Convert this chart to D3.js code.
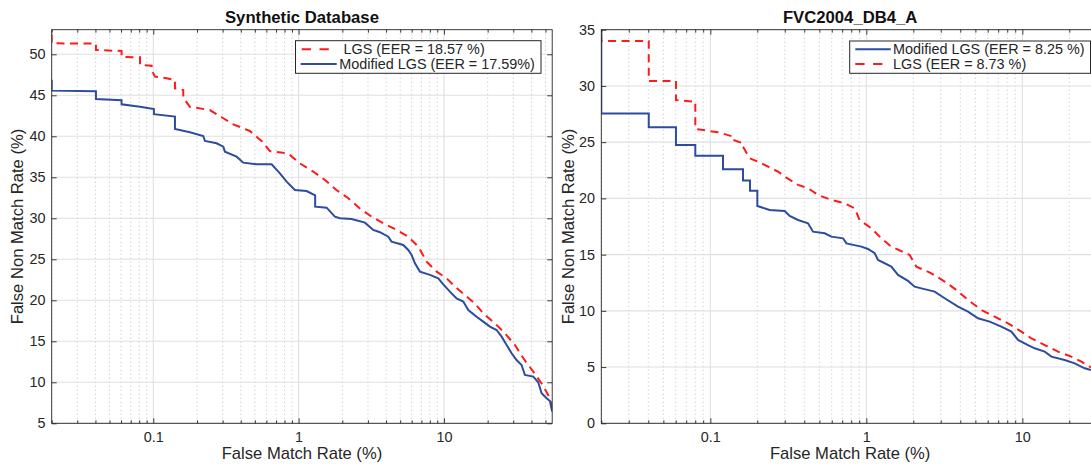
<!DOCTYPE html>
<html><head><meta charset="utf-8">
<script src="https://cdn.jsdelivr.net/npm/d3@7"></script>
<style>
body{margin:0;background:#fff}
svg{display:block}
text{font-family:"Liberation Sans",Arial,Helvetica,sans-serif}
</style>
</head><body>
<svg id="c" width="1091" height="464"></svg>
<script>
// ---------- data ----------
const xMajorTicks = [0.1, 1, 10];
const xMajorLabels = ["0.1", "1", "10"];
const synYTicks = [5, 10, 15, 20, 25, 30, 35, 40, 45, 50];
const fvcYTicks = [0, 5, 10, 15, 20, 25, 30, 35];
const synXRange = [0.02, 55.6];
const synYRange = [5, 53];
const fvcXRange = [0.02, 31];
const fvcYRange = [0, 35];
const synTitle = "Synthetic Database";
const fvcTitle = "FVC2004_DB4_A";
const xAxisLabel = "False Match Rate (%)";
const yAxisLabel = "False Non Match Rate (%)";
const synLegend = ["LGS (EER = 18.57 %)", "Modified LGS (EER = 17.59%)"];
const fvcLegend = ["Modified LGS (EER = 8.25 %)", "LGS (EER = 8.73 %)"];

// Synthetic - LGS
const synLgsFMR = [0.02,0.02,0.0403,0.0403,0.0605,0.0605,0.081,0.081,0.0974,0.0974,0.1027,0.1236,0.141,0.141,0.1608,0.1608,0.1786,0.245,0.303,0.355,0.462,0.556,0.635,0.849,1.02,1.26,1.52,1.82,2.2,2.64,3.18,3.83,4.72,5.68,6.66,7.6,8.91,10.43,11.9,13.95,16.3,18.65,22.4,26.3,30.8,35.2,41.2,47.8,53.6,55.6];
const synLgsFNMR = [52.4,51.34,51.3,50.53,50.4,49.7,49.63,48.7,48.6,48.1,47.28,47.07,46.87,45.85,45.65,44.7,43.6,43.2,42.2,41.46,40.65,39.43,38.2,37.9,36.7,35.7,34.67,33.45,32.44,31.2,30.2,29.39,28.58,27.76,26.54,24.72,23.5,22.68,21.67,20.65,19.63,18.41,17.2,15.98,14.55,12.93,11.3,9.67,8.05,6.83];
// Synthetic - Modified LGS
const synModFMR = [0.02,0.02,0.0403,0.0403,0.0605,0.0605,0.081,0.101,0.101,0.141,0.141,0.1788,0.2208,0.2267,0.2728,0.3031,0.3112,0.3745,0.4162,0.5141,0.6522,0.7438,0.827,0.9437,1.135,1.30,1.30,1.558,1.778,1.925,2.316,2.86,3.265,3.627,4.14,4.364,5.252,5.684,5.993,6.317,6.838,8.013,9.143,9.895,10.996,12.22,13.59,14.71,16.78,18.65,20.73,23.04,24.94,27.0,29.22,31.62,34.22,36.08,41.19,44.58,46.99,50.87,53.63,55.6];
const synModFNMR = [46.9,45.57,45.5,44.55,44.4,43.9,43.6,43.33,42.7,42.4,40.9,40.5,40.04,39.43,39.15,38.74,38.13,37.52,36.79,36.59,36.59,35.49,34.47,33.46,33.33,32.8,31.42,31.3,30.2,30.0,29.92,29.47,28.58,28.3,27.76,27.15,26.75,26.14,25.53,24.51,23.5,23.1,22.68,21.95,21.06,20.24,19.84,18.82,18.0,17.4,16.79,16.38,15.57,14.55,13.54,12.72,12.11,10.89,10.69,10.0,8.66,8.05,7.72,6.42];
// FVC2004 DB4_A - Modified LGS
const fvcModFMR = [0.02,0.02,0.0403,0.0403,0.0602,0.0602,0.0801,0.0801,0.1205,0.1205,0.162,0.162,0.1796,0.1796,0.2001,0.2001,0.240,0.2996,0.3225,0.3648,0.4227,0.455,0.541,0.5965,0.7087,0.745,0.929,1.025,1.131,1.188,1.446,1.596,1.849,2.04,2.253,2.742,3.178,3.869,4.484,5.198,6.174,7.334,8.504,9.38,10.87,12.0,13.91,15.35,18.68,21.66,25.1,27.5];
const fvcModFNMR = [35,27.54,27.54,26.32,26.32,24.75,24.75,23.8,23.8,22.59,22.59,21.6,21.6,20.69,20.69,19.33,18.97,18.88,18.44,18.08,17.79,17.04,16.9,16.6,16.45,16.0,15.71,15.5,15.12,14.52,13.93,13.19,12.66,12.15,12.0,11.71,11.12,10.37,9.93,9.34,9.04,8.6,8.15,7.41,6.96,6.67,6.37,5.93,5.63,5.33,4.89,4.74];
// FVC2004 DB4_A - LGS
const fvcLgsFMR = [0.02,0.02,0.0403,0.0403,0.0602,0.0602,0.0801,0.0801,0.112,0.1397,0.1397,0.162,0.162,0.1787,0.202,0.2343,0.2716,0.2996,0.3648,0.4227,0.4898,0.5965,0.7265,0.8418,0.906,1.076,1.248,1.446,1.896,2.092,2.61,3.178,3.775,4.484,5.46,6.645,8.092,9.85,11.42,13.91,16.93,20.61,23.89,27.5];
const fvcLgsFNMR = [34.6,34.0,34.0,30.44,30.44,28.75,28.6,26.18,25.88,25.5,25.2,24.9,24.6,23.57,23.27,22.83,22.38,21.94,21.2,20.9,20.31,19.86,19.56,19.12,18.08,17.34,16.45,15.71,14.97,13.93,13.34,12.6,11.86,10.97,10.08,9.48,8.89,8.15,7.56,6.96,6.37,5.93,5.48,4.98];

// ---------- styles ----------
const BLUE = "#2c4c9f";
const RED = "#ff1a1a";
const TXT = "#262626";
const DASH_PLOT = "8,5.5";
const DASH_LEG = "9.3,8.5";

const zip = (a, b) => a.map((v, i) => [v, b[i]]);

const panels = [
  {
    id: "syn", box: {l: 51.7, r: 552.2, t: 29.7, b: 423.3},
    xr: synXRange, yr: synYRange, yt: synYTicks, title: synTitle,
    ylabX: 23,
    series: [
      {pts: zip(synLgsFMR, synLgsFNMR), color: RED, dash: DASH_PLOT},
      {pts: zip(synModFMR, synModFNMR), color: BLUE, dash: null}
    ],
    legend: {x0: 295.5, y0: 40.7, x1: 541, y1: 73.3,
      rows: [
        {label: synLegend[0], color: RED, dash: DASH_LEG, lx0: 301.7, lx1: 330, ly: 49.3, tx: 343.5, ty: 54.3},
        {label: synLegend[1], color: BLUE, dash: null, lx0: 300.7, lx1: 336.7, ly: 64, tx: 339.3, ty: 69.3}
      ]}
  },
  {
    id: "fvc", box: {l: 601.3, r: 1099.0, t: 29.7, b: 423.3},
    xr: fvcXRange, yr: fvcYRange, yt: fvcYTicks, title: fvcTitle,
    ylabX: 573.5,
    series: [
      {pts: zip(fvcLgsFMR, fvcLgsFNMR), color: RED, dash: DASH_PLOT},
      {pts: zip(fvcModFMR, fvcModFNMR), color: BLUE, dash: null}
    ],
    legend: {x0: 849.7, y0: 41, x1: 1090.5, y1: 73.3,
      rows: [
        {label: fvcLegend[0], color: BLUE, dash: null, lx0: 855.3, lx1: 890.7, ly: 49.3, tx: 893, ty: 54.3},
        {label: fvcLegend[1], color: RED, dash: DASH_LEG, lx0: 855.3, lx1: 883.5, ly: 64, tx: 893, ty: 69.3}
      ]}
  }
];

const svg = d3.select("#c");
svg.append("rect").attr("width", 1091).attr("height", 464).attr("fill", "#fff");

panels.forEach(p => {
  const B = p.box;
  const x = d3.scaleLog().domain(p.xr).range([B.l, B.r]);
  const y = d3.scaleLinear().domain(p.yr).range([B.b, B.t]);
  const allX = x.ticks();
  const minorX = allX.filter(v => !xMajorTicks.some(m => Math.abs(m - v) < 1e-9));
  const W = B.r - B.l, H = B.b - B.t;

  const g = svg.append("g");

  // grid
  const grid = g.append("g");
  grid.selectAll(".mg").data(minorX).join("line")
    .attr("x1", d => x(d)).attr("x2", d => x(d)).attr("y1", B.t).attr("y2", B.b)
    .attr("stroke", "#c4c4c4").attr("stroke-width", 0.9).attr("stroke-dasharray", "1.2,2.8");
  grid.selectAll(".Mg").data(xMajorTicks).join("line")
    .attr("x1", d => x(d)).attr("x2", d => x(d)).attr("y1", B.t).attr("y2", B.b)
    .attr("stroke", "#e0e0e0").attr("stroke-width", 1.1);
  grid.selectAll(".yg").data(p.yt).join("line")
    .attr("x1", B.l).attr("x2", B.r).attr("y1", d => y(d)).attr("y2", d => y(d))
    .attr("stroke", "#e0e0e0").attr("stroke-width", 1.1);

  // clip
  g.append("clipPath").attr("id", "clip-" + p.id)
    .append("rect").attr("x", B.l).attr("y", B.t).attr("width", W).attr("height", H);

  const line = d3.line().x(d => x(d[0])).y(d => y(d[1]));
  const lines = g.append("g").attr("clip-path", `url(#clip-${p.id})`);
  p.series.forEach(s => {
    lines.append("path").attr("d", line(s.pts)).attr("fill", "none")
      .attr("stroke", s.color).attr("stroke-width", 2)
      .attr("stroke-dasharray", s.dash)
      .attr("stroke-linejoin", "miter");
  });

  // axes
  const styleAxis = sel => {
    sel.select(".domain").remove();
    sel.selectAll(".tick line").attr("stroke", TXT).attr("stroke-width", 0.9);
    sel.selectAll("text").attr("fill", TXT).attr("font-size", "14.4px")
      .attr("font-family", '"Liberation Sans",Arial,Helvetica,sans-serif');
  };
  g.append("g").attr("transform", `translate(0,${B.b})`)
    .call(d3.axisBottom(x).tickValues(xMajorTicks).tickFormat((d, i) => xMajorLabels[i])
      .tickSize(-5).tickSizeOuter(0).tickPadding(8.6)).call(styleAxis);
  g.append("g").attr("transform", `translate(0,${B.b})`)
    .call(d3.axisBottom(x).tickValues(minorX).tickFormat("").tickSize(-3).tickSizeOuter(0)).call(styleAxis);
  g.append("g").attr("transform", `translate(0,${B.t})`)
    .call(d3.axisTop(x).tickValues(xMajorTicks).tickFormat("").tickSize(-5).tickSizeOuter(0)).call(styleAxis);
  g.append("g").attr("transform", `translate(0,${B.t})`)
    .call(d3.axisTop(x).tickValues(minorX).tickFormat("").tickSize(-3).tickSizeOuter(0)).call(styleAxis);
  g.append("g").attr("transform", `translate(${B.l},0)`)
    .call(d3.axisLeft(y).tickValues(p.yt).tickFormat(d3.format("d")).tickSize(-5).tickSizeOuter(0).tickPadding(6.3)).call(styleAxis);
  g.append("g").attr("transform", `translate(${B.r},0)`)
    .call(d3.axisRight(y).tickValues(p.yt).tickFormat("").tickSize(-5).tickSizeOuter(0)).call(styleAxis);

  // box
  g.append("rect").attr("x", B.l).attr("y", B.t).attr("width", W).attr("height", H)
    .attr("fill", "none").attr("stroke", TXT).attr("stroke-width", 0.9);

  // labels
  const cx = (B.l + B.r) / 2, cy = (B.t + B.b) / 2;
  g.append("text").attr("x", cx).attr("y", 23.3).attr("text-anchor", "middle")
    .attr("font-size", "16.7px").attr("font-weight", "bold").attr("fill", "#111").text(p.title);
  g.append("text").attr("x", cx).attr("y", 459).attr("text-anchor", "middle")
    .attr("font-size", "16.6px").attr("fill", TXT).text(xAxisLabel);
  g.append("text").attr("transform", `translate(${p.ylabX},${cy}) rotate(-90)`).attr("text-anchor", "middle")
    .attr("font-size", "16.6px").attr("fill", TXT).text(yAxisLabel);

  // legend
  const L = p.legend;
  const lg = g.append("g");
  lg.append("rect").attr("x", L.x0).attr("y", L.y0).attr("width", L.x1 - L.x0).attr("height", L.y1 - L.y0)
    .attr("fill", "#fff").attr("stroke", TXT).attr("stroke-width", 1);
  L.rows.forEach(r => {
    lg.append("line").attr("x1", r.lx0).attr("x2", r.lx1).attr("y1", r.ly).attr("y2", r.ly)
      .attr("stroke", r.color).attr("stroke-width", 2).attr("stroke-dasharray", r.dash);
    lg.append("text").attr("x", r.tx).attr("y", r.ty).attr("font-size", "14.4px").attr("fill", TXT).text(r.label);
  });
});
</script>
</body></html>
